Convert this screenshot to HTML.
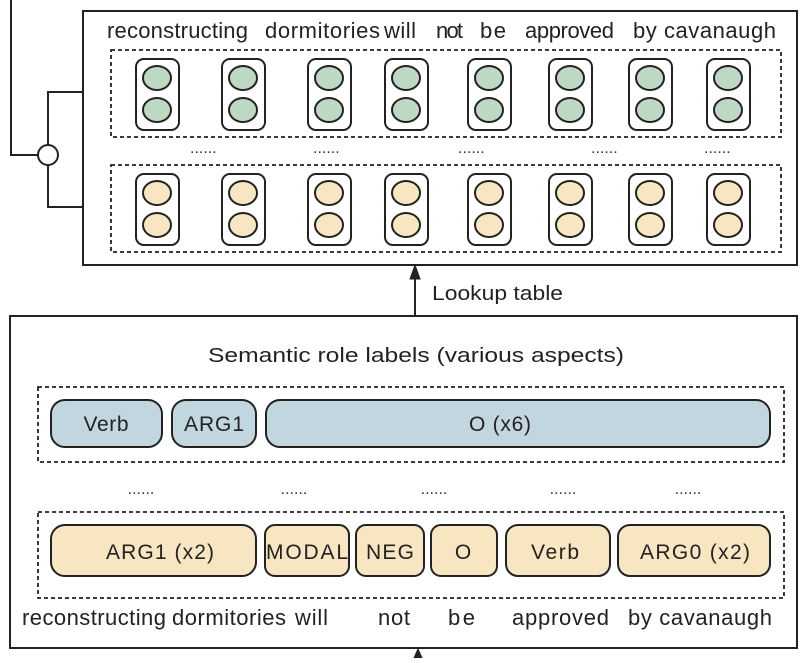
<!DOCTYPE html>
<html><head><meta charset="utf-8"><style>html,body{margin:0;padding:0;background:#fff}</style></head>
<body>
<svg width="804" height="658" viewBox="0 0 804 658" xmlns="http://www.w3.org/2000/svg" font-family="Liberation Sans, sans-serif" fill="none" stroke="#222">
<defs>
<g id="gc"><rect x="-21" y="-35" width="43" height="71" rx="8" fill="#fff" stroke-width="2"/><ellipse cx="0" cy="-16" rx="14" ry="12" fill="#bdd9c2" stroke-width="2"/><ellipse cx="0" cy="16" rx="14" ry="12" fill="#bdd9c2" stroke-width="2"/></g>
<g id="yc"><rect x="-21" y="-35" width="43" height="71" rx="8" fill="#fff" stroke-width="2"/><ellipse cx="0" cy="-16" rx="14" ry="12" fill="#f8e6c2" stroke-width="2"/><ellipse cx="0" cy="16" rx="14" ry="12" fill="#f8e6c2" stroke-width="2"/></g>
</defs>
<path d="M11 0 V155 H38 M48 145 V92 H83 M48 165 V207 H83" stroke-width="2"/>
<circle cx="48" cy="155" r="10" fill="#fff" stroke-width="2"/>
<rect x="83" y="11" width="714" height="254" stroke-width="2"/>
<g fill="#222" stroke="none" font-size="22" lengthAdjust="spacingAndGlyphs">
<text x="107" y="38" textLength="141">reconstructing</text><text x="265" y="38" textLength="115">dormitories</text><text x="384" y="38" textLength="32">will</text>
<text x="436" y="38" textLength="27">not</text><text x="480" y="38" textLength="26">be</text><text x="525" y="38" textLength="89">approved</text><text x="633" y="38" textLength="143">by cavanaugh</text>
</g>
<rect x="111" y="50" width="670" height="87" stroke-dasharray="4,3" stroke-width="1.8"/>
<rect x="111" y="165" width="670" height="87" stroke-dasharray="4,3" stroke-width="1.8"/>
<use href="#gc" x="157" y="94"/><use href="#gc" x="243" y="94"/><use href="#gc" x="329" y="94"/><use href="#gc" x="406" y="94"/><use href="#gc" x="489" y="94"/><use href="#gc" x="570" y="94"/><use href="#gc" x="650" y="94"/><use href="#gc" x="728" y="94"/>
<use href="#yc" x="157" y="209"/><use href="#yc" x="243" y="209"/><use href="#yc" x="329" y="209"/><use href="#yc" x="406" y="209"/><use href="#yc" x="489" y="209"/><use href="#yc" x="570" y="209"/><use href="#yc" x="650" y="209"/><use href="#yc" x="728" y="209"/>
<g fill="#333" stroke="none" font-size="16"><text x="190" y="153">......</text><text x="313" y="153">......</text><text x="458" y="153">......</text><text x="591" y="153">......</text><text x="704" y="153">......</text></g>
<path d="M415 316 V276" stroke-width="2"/><path d="M410 279 L415 265 L420 279 Z" fill="#222"/>
<text x="432" y="300" fill="#222" stroke="none" font-size="20" textLength="131" lengthAdjust="spacingAndGlyphs">Lookup table</text>
<rect x="10" y="316" width="787" height="332" stroke-width="2"/>
<text x="208" y="362" fill="#222" stroke="none" font-size="20" textLength="416" lengthAdjust="spacingAndGlyphs">Semantic  role labels (various aspects)</text>
<rect x="38" y="387" width="746" height="75" stroke-dasharray="4,3" stroke-width="1.8"/>
<rect x="38" y="512" width="746" height="86" stroke-dasharray="4,3" stroke-width="1.8"/>
<g stroke-width="2" fill="#c2d6df">
<rect x="51" y="400" width="111" height="47" rx="14"/><rect x="172" y="400" width="84" height="47" rx="14"/><rect x="266" y="400" width="504" height="47" rx="14"/>
</g>
<g stroke-width="2" fill="#f8e6c2">
<rect x="51" y="525" width="205" height="51" rx="14"/><rect x="265" y="525" width="84" height="51" rx="10"/><rect x="356" y="525" width="68" height="51" rx="10"/><rect x="431" y="525" width="66" height="51" rx="10"/><rect x="506" y="525" width="104" height="51" rx="12"/><rect x="618" y="525" width="152" height="51" rx="12"/>
</g>
<g fill="#222" stroke="none" font-size="21" text-anchor="middle" lengthAdjust="spacingAndGlyphs">
<text x="106" y="431" textLength="45">Verb</text><text x="214" y="431" textLength="60">ARG1</text><text x="500" y="431" textLength="62">O (x6)</text>
<text x="160" y="559" textLength="108">ARG1 (x2)</text><text x="307" y="559" textLength="82">MODAL</text><text x="390" y="559" textLength="48">NEG</text><text x="463" y="559">O</text><text x="555" y="559" textLength="48">Verb</text><text x="695" y="559" textLength="110">ARG0 (x2)</text>
</g>
<g fill="#333" stroke="none" font-size="16" text-anchor="middle"><text x="141" y="494">......</text><text x="294" y="494">......</text><text x="434" y="494">......</text><text x="563" y="494">......</text><text x="688" y="494">......</text></g>
<g fill="#222" stroke="none" font-size="22" lengthAdjust="spacingAndGlyphs">
<text x="22" y="625" textLength="144">reconstructing</text><text x="172" y="625" textLength="114">dormitories</text><text x="295" y="625" textLength="33">will</text>
<text x="378" y="625" textLength="32">not</text><text x="448" y="625" textLength="27">be</text><text x="512" y="625" textLength="97">approved</text><text x="628" y="625" textLength="144">by cavanaugh</text>
</g>
<path d="M418 658 V652" stroke-width="2"/><path d="M414 658 L418 649 L422 658 Z" fill="#222"/>
</svg>
</body></html>
